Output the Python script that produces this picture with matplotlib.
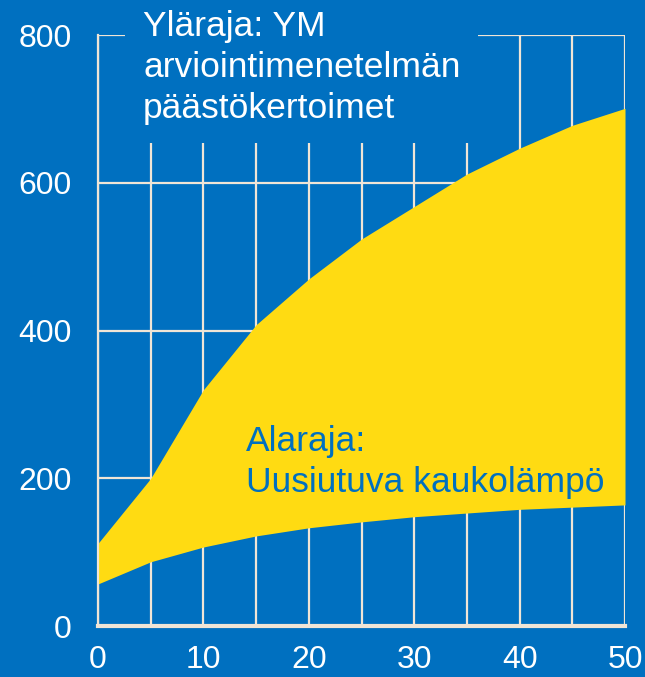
import numpy as np
import matplotlib.pyplot as plt

# -----------------------------
# Data
# -----------------------------
years = [0, 5, 10, 15, 20, 25, 30, 35, 40, 45, 50]
upper = [112, 200, 320, 408, 470, 524, 568, 612, 647, 678, 701]   # Yläraja
lower = [57, 87, 107, 122, 133, 141, 148, 153, 158, 161, 164]     # Alaraja

x_ticks = [0, 10, 20, 30, 40, 50]
y_ticks = [0, 200, 400, 600, 800]

upper_label = "Yläraja: YM\narviointimenetelmän\npäästökertoimet"
lower_label = "Alaraja:\nUusiutuva kaukolämpö"

# -----------------------------
# Style
# -----------------------------
BLUE = "#0070C0"
YELLOW = "#FFDB12"
GRID = "#F0E5D6"
plt.rcParams['font.family'] = ['Liberation Sans', 'DejaVu Sans']

fig = plt.figure(figsize=(6.45, 6.77), dpi=100, facecolor=BLUE)
ax = fig.add_axes([0.152, 0.0753, 0.817, 0.8727])
ax.set_facecolor(BLUE)

ax.fill_between(years, lower, upper, color=YELLOW, linewidth=0, zorder=1)

ax.set_xlim(0, 50)
ax.set_ylim(0, 800)
ax.set_xticks(x_ticks)
ax.set_yticks(y_ticks)
ax.set_xticks(np.arange(0, 51, 5), minor=True)

ax.set_axisbelow(True)
ax.grid(True, which='both', axis='x', color=GRID, linewidth=1.6)
ax.grid(True, which='major', axis='y', color=GRID, linewidth=1.6)

for side in ['top', 'right']:
    ax.spines[side].set_visible(False)
ax.spines['left'].set_color(GRID)
ax.spines['left'].set_linewidth(1.6)
ax.spines['bottom'].set_color(GRID)
ax.spines['bottom'].set_linewidth(3)

ax.tick_params(axis='both', which='both', length=0, labelcolor='white', labelsize=23)
ax.tick_params(axis='x', pad=14)
ax.tick_params(axis='y', pad=19)

# title block sits on top of the grid with a blue box
ax.text(4.27, 834, upper_label, ha='left', va='top', fontsize=25.5, color='white',
        linespacing=1.31, zorder=5,
        bbox=dict(boxstyle='square,pad=0.5', facecolor=BLUE, edgecolor='none'))

ax.text(14.0, 222, lower_label, ha='left', va='center', fontsize=25.5, color=BLUE,
        linespacing=1.31, zorder=5)

fig.savefig("out.png", dpi=100, facecolor=BLUE)
